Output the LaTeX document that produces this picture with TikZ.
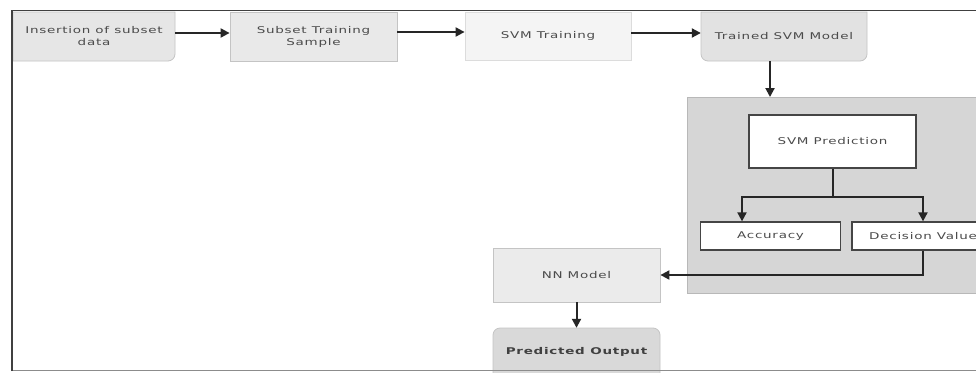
\documentclass[tikz,border=0pt]{standalone}
\usepackage{fontspec}
\newfontfamily\lblfont[FakeStretch=1.45,LetterSpace=8]{DejaVu Sans}
\usetikzlibrary{arrows.meta,calc}
\definecolor{txt}{HTML}{4A4A4A}
\definecolor{boxline}{HTML}{C4C4C4}
\definecolor{gA}{HTML}{E6E6E6}
\definecolor{gB}{HTML}{E9E9E9}
\definecolor{gC}{HTML}{F4F4F4}
\definecolor{gD}{HTML}{E2E2E2}
\definecolor{gNN}{HTML}{EBEBEB}
\definecolor{gPO}{HTML}{D9D9D9}
\definecolor{contfill}{HTML}{D6D6D6}
\definecolor{contline}{HTML}{B8B8B8}
\definecolor{inline}{HTML}{454545}
\begin{document}
\begin{tikzpicture}[x=1pt,y=1pt,
  lbl/.style={font=\lblfont\fontsize{9.3}{12}\selectfont, text=txt, align=center, inner sep=0pt},
  plain/.style={lbl, draw=boxline, line width=0.8pt},
  inbox/.style={lbl, draw=inline, line width=1.3pt, fill=white},
  arr/.style={line width=2pt, draw=black!85, -{Triangle[length=9pt,width=9pt]}},
  seg/.style={line width=2pt, draw=black!85},
]
\useasboundingbox (0,0) rectangle (976,-372);
\fill[white] (0,0) rectangle (976,-372);

% box 1 (rounded bottom-right corner)
\filldraw[fill=gA, draw=boxline, line width=0.8pt] (13,-12) -- (175,-12) -- (175,-54) arc[start angle=0,end angle=-90,radius=7] -- (13,-61) -- cycle;
\node[lbl, minimum width=162pt, minimum height=49pt] (b1) at (94,-36.5) {Insertion of subset\\data};

% box 2
\node[plain, fill=gB, minimum width=167pt, minimum height=49pt] (b2) at (313.5,-36.5) {Subset Training\\Sample};

% box 3
\node[plain, draw=boxline!60, fill=gC, minimum width=166pt, minimum height=48pt] (b3) at (548,-36) {SVM Training};

% box 4 (rounded bottom corners)
\filldraw[fill=gD, draw=boxline, line width=0.8pt] (701,-12) -- (867,-12) -- (867,-54) arc[start angle=0,end angle=-90,radius=7] -- (708,-61) arc[start angle=270,end angle=180,radius=7] -- cycle;
\node[lbl, minimum width=166pt, minimum height=49pt] (b4) at (784,-36.5) {Trained SVM Model};

% container
\node[draw=contline, line width=0.8pt, fill=contfill, minimum width=312pt, minimum height=196pt, anchor=north west, inner sep=0pt] (cont) at (687,-97) {};

% inner boxes
\node[inbox, minimum width=167pt, minimum height=53pt] (pred) at (832.5,-141.5) {SVM Prediction};
\node[inbox, minimum width=140pt, minimum height=28pt] (acc) at (770.5,-236) {Accuracy};
\node[inbox, minimum width=142pt, minimum height=28pt] (dec) at (923,-236) {Decision Value};

% NN model
\node[plain, fill=gNN, minimum width=167pt, minimum height=54pt] (nn) at (576.5,-275) {NN Model};

% predicted output (rounded top corners)
\filldraw[fill=gPO, draw=boxline, line width=0.8pt] (493,-380) -- (493,-335) arc[start angle=180,end angle=90,radius=7] -- (653,-328) arc[start angle=90,end angle=0,radius=7] -- (660,-380);
\node[lbl, font=\lblfont\bfseries\fontsize{9.3}{12}\selectfont, text=black!75, minimum width=167pt, minimum height=48pt] (po) at (576.5,-352) {Predicted Output};

% connectors
\draw[arr] (b1.east |- 0,-33) -- (b2.west |- 0,-33);
\draw[arr] (b2.east |- 0,-32) -- (b3.west |- 0,-32);
\draw[arr] (b3.east |- 0,-33) -- (b4.west |- 0,-33);
\draw[arr] ([xshift=-14pt]b4.south) -- ([xshift=-14pt]b4.south |- cont.north);
\coordinate (split) at ($(pred.south)+(0,-28)$);
\draw[seg] (pred.south) -- (split);
\draw[arr] ([xshift=1pt]split) -| ([xshift=-28.5pt]acc.north);
\draw[arr] ([xshift=-1pt]split) -| (dec.north);
\draw[arr] (dec.south) |- (nn.east);
\draw[arr] (nn.south) -- (po.north);

% frame
\draw[line width=0.8pt, draw=black!45] (12,-370) -- (976,-370);
\draw[line width=1.8pt, draw=black!75] (12,-371) -- (12,-10.5) -- (976,-10.5);
\end{tikzpicture}
\end{document}
